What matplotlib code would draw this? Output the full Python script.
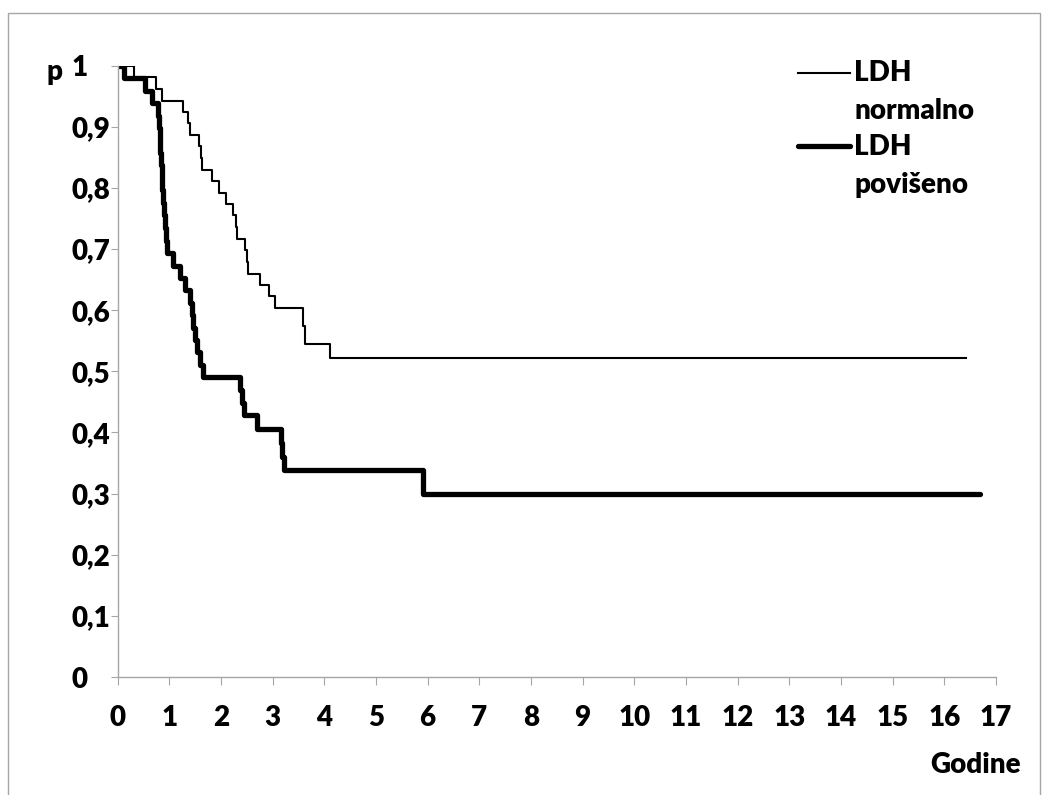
import matplotlib.pyplot as plt
from matplotlib.lines import Line2D
from matplotlib.patches import Rectangle

plt.rcParams["font.family"] = ["Lato", "DejaVu Sans"]
WEIGHT = "heavy"
plt.rcParams["font.weight"] = WEIGHT

# Kaplan-Meier steps, LDH normal
t_norm = [0, 0.32, 0.75, 0.86, 1.27, 1.37, 1.41, 1.58, 1.61, 1.64, 1.83,
          1.97, 2.10, 2.23, 2.29, 2.32, 2.46, 2.50, 2.53, 2.75, 2.94, 3.05,
          3.58, 3.62, 4.11, 16.41]
p_norm = [1.0, 0.981, 0.962, 0.943, 0.925, 0.906, 0.887, 0.868, 0.849, 0.830,
          0.811, 0.792, 0.774, 0.755, 0.736, 0.717, 0.698, 0.679, 0.660, 0.642,
          0.623, 0.604, 0.574, 0.544, 0.522, 0.522]

# Kaplan-Meier steps, LDH elevated
t_high = [0, 0.12, 0.54, 0.66, 0.78, 0.80, 0.82, 0.83, 0.85, 0.86, 0.87,
          0.88, 0.90, 0.91, 0.93, 0.95, 1.07, 1.20, 1.31, 1.40, 1.44, 1.47,
          1.50, 1.53, 1.60, 1.66, 2.37, 2.41, 2.44, 2.70, 3.16, 3.19, 3.23,
          5.91, 16.70]
p_high = [1.0, 0.980, 0.959, 0.939, 0.918, 0.898, 0.878, 0.857, 0.837, 0.816,
          0.796, 0.776, 0.755, 0.735, 0.714, 0.694, 0.673, 0.653, 0.633, 0.612,
          0.592, 0.571, 0.551, 0.531, 0.510, 0.490, 0.469, 0.449, 0.428, 0.405,
          0.382, 0.360, 0.339, 0.300, 0.300]

y_ticks = [0, 0.1, 0.2, 0.3, 0.4, 0.5, 0.6, 0.7, 0.8, 0.9, 1.0]
y_labels = ["0", "0,1", "0,2", "0,3", "0,4", "0,5", "0,6", "0,7", "0,8", "0,9", "1"]
x_ticks = list(range(0, 18))

FS = 20
W, H = 1047, 795
fig = plt.figure(figsize=(W / 100, H / 100), dpi=100)
ax = fig.add_axes([117.5 / W, 1 - 677 / H, (996 - 117.5) / W, (677 - 65.7) / H])

ax.step(t_norm, p_norm, where="post", color="black", lw=1.5)
ax.step(t_high, p_high, where="post", color="black", lw=3.8, solid_capstyle="round")

ax.set_xlim(0, 17)
ax.set_ylim(0, 1)
for s in ["top", "right"]:
    ax.spines[s].set_visible(False)
for s in ["left", "bottom"]:
    ax.spines[s].set_color("#a6a6a6")
    ax.spines[s].set_linewidth(1.0)

ax.set_yticks(y_ticks)
ax.set_yticklabels(y_labels, fontsize=FS, fontweight=WEIGHT)
ax.set_xticks(x_ticks)
ax.set_xticklabels([str(x) for x in x_ticks], fontsize=FS, fontweight=WEIGHT)
ax.tick_params(axis="y", direction="out", length=5, color="#a6a6a6", pad=28)
ax.tick_params(axis="x", direction="out", length=6, color="#a6a6a6", pad=14)
for lab in ax.get_yticklabels():
    lab.set_horizontalalignment("left")

# axis titles
fig.text(46 / W, 1 - 72 / H, "p", fontsize=FS, fontweight=WEIGHT, va="center")
fig.text(1021 / W, 1 - 765 / H, "Godine", fontsize=FS, fontweight=WEIGHT,
         ha="right", va="center")

# legend
fig.add_artist(Line2D([798 / W, 850 / W], [1 - 72.5 / H, 1 - 72.5 / H],
                      color="black", lw=1.5))
fig.add_artist(Line2D([798 / W, 850 / W], [1 - 146 / H, 1 - 146 / H],
                      color="black", lw=3.8, solid_capstyle="round"))
fig.text(854 / W, 1 - 73 / H, "LDH", fontsize=FS, fontweight=WEIGHT, va="center")
fig.text(854 / W, 1 - 111 / H, "normalno", fontsize=FS, fontweight=WEIGHT, va="center")
fig.text(854 / W, 1 - 147 / H, "LDH", fontsize=FS, fontweight=WEIGHT, va="center")
fig.text(854 / W, 1 - 185 / H, "povišeno", fontsize=FS, fontweight=WEIGHT, va="center")

# chart border
fig.add_artist(Rectangle((8 / W, -0.1), (1040 - 8) / W, 1.1 - 13 / H,
                         transform=fig.transFigure, fill=False,
                         edgecolor="#a6a6a6", lw=1.0))

fig.savefig("out.png", dpi=100)
